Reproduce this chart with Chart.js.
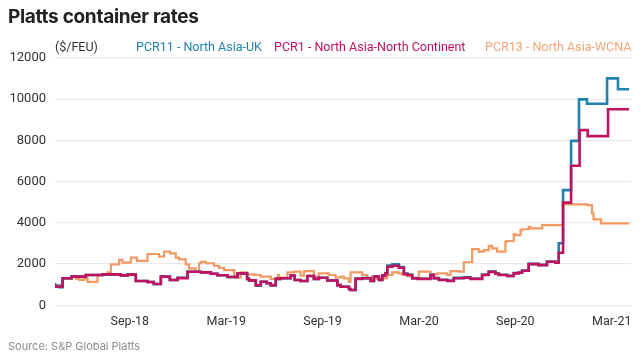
<!DOCTYPE html>
<html>
<head>
<meta charset="utf-8">
<script src="https://cdn.jsdelivr.net/npm/chart.js@4/dist/chart.umd.min.js"></script>
<style>
  html, body { margin: 0; padding: 0; background: #fff; }
  body { width: 644px; height: 361px; position: relative; overflow: hidden; font-family: Inter, "Noto Sans", sans-serif; }
  #wrap { position: absolute; left: 0; top: 0; width: 644px; height: 361px; }
  .title { position: absolute; left: 8px; top: 5px; font-size: 19px; font-weight: 700; color: #222; letter-spacing: -0.3px; }
  .lg { position: absolute; top: 39px; font-family: Roboto, sans-serif; font-size: 12.5px; white-space: nowrap; }
  .source { position: absolute; left: 8px; top: 339px; font-size: 11px; color: #8a8a8a; }
</style>
</head>
<body>
<div id="wrap"><canvas id="rates" width="644" height="361"></canvas></div>
<div class="title">Platts container rates</div>
<div class="lg" style="left:55px;color:#333">($/FEU)</div>
<div class="lg" style="left:136px;color:#1f82b0">PCR11 - North Asia-UK</div>
<div class="lg" style="left:274px;color:#c0125f">PCR1 - North Asia-North Continent</div>
<div class="lg" style="left:485px;color:#f4a676">PCR13 - North Asia-WCNA</div>
<div class="source">Source: S&amp;P Global Platts</div>
<script>
// x values are months since Jan 2018 (8 = Sep-18)
var tickMonths = [8, 14, 20, 26, 32, 38];
var tickLabels = ['Sep-18', 'Mar-19', 'Sep-19', 'Mar-20', 'Sep-20', 'Mar-21'];

var pcr1Months = [3.34,3.81,4.37,5.26,6.30,7.44,7.86,8.37,9.10,9.49,9.93,10.49,10.97,11.59,12.42,13.04,13.45,14.08,14.70,15.30,15.42,15.84,16.15,16.52,16.77,17.08,17.39,18.01,18.26,18.63,19.05,19.46,19.77,20.29,20.92,21.12,21.64,21.74,22.05,22.47,22.99,23.20,23.51,23.72,23.92,24.03,24.34,24.75,25.06,25.27,25.58,25.89,26.72,26.92,27.24,27.76,28.17,28.79,29.21,29.93,30.34,30.76,30.97,31.49,31.90,32.21,32.42,32.83,33.45,33.97,34.49,34.70,34.97,35.47,36.00,36.50,37.77,38.39,39.08];
var pcr1Values = [1070,900,1310,1390,1470,1500,1450,1490,1180,1130,1030,1390,1230,1320,1630,1600,1530,1460,1370,1550,1280,1210,980,1140,1070,980,1280,1310,1440,1230,1180,1420,1280,1340,1200,980,900,790,740,1280,1310,1180,1390,1230,1440,1550,1870,1920,1820,1520,1470,1310,1280,1470,1310,1230,1180,1310,1340,1280,1470,1620,1530,1470,1420,1550,1580,1680,2000,1950,2110,2070,2550,4980,6770,8500,8210,9510,9510];

var pcr11Months = [3.34,3.60,3.81,4.37,5.26,6.30,7.44,7.86,8.37,9.10,9.49,9.93,10.49,10.97,11.59,12.42,13.04,13.45,14.08,14.70,15.30,15.42,15.84,16.15,16.52,16.77,17.08,17.39,18.01,18.26,18.63,19.05,19.46,19.77,20.29,20.92,21.12,21.64,21.74,22.05,22.47,22.99,23.20,23.51,23.72,23.92,24.03,24.34,24.75,25.06,25.27,25.58,25.89,26.72,26.92,27.24,27.76,28.17,28.79,29.21,29.93,30.34,30.76,30.97,31.49,31.90,32.21,32.42,32.83,33.45,33.97,34.49,34.70,34.97,35.47,35.96,36.46,37.71,38.39,38.49,39.08];
var pcr11Values = [1050,950,880,1310,1390,1470,1500,1450,1490,1180,1130,1030,1390,1230,1340,1630,1600,1530,1460,1370,1550,1280,1210,950,1140,1070,960,1280,1310,1440,1230,1180,1420,1280,1340,1200,980,900,790,740,1300,1320,1180,1390,1230,1460,1570,1930,1990,1850,1540,1480,1320,1290,1480,1320,1240,1200,1330,1360,1290,1490,1640,1550,1480,1430,1570,1600,1690,2010,1960,2120,2080,3010,5590,7980,9990,9780,11010,10480,10480];

var pcr13Months = [3.34,3.81,4.37,4.64,4.85,5.16,5.37,5.99,6.61,6.82,7.33,7.54,8.06,8.44,9.10,9.82,10.13,10.51,10.86,11.07,11.48,11.69,12.10,12.31,12.42,12.73,13.24,13.55,13.86,14.49,14.59,14.90,15.28,15.73,16.15,16.77,17.22,17.29,17.81,18.22,18.63,18.84,19.46,19.77,20.39,20.81,21.12,21.33,21.64,21.74,22.47,22.78,23.09,23.40,23.72,24.03,24.34,24.75,24.96,25.27,25.58,25.99,26.72,27.14,27.76,27.96,28.48,28.79,29.31,29.72,30.03,30.34,30.55,30.86,31.38,31.45,31.90,32.00,32.32,32.42,32.83,32.94,33.67,34.97,36.46,36.77,36.87,37.33,38.70,39.08];
var pcr13Values = [1070,980,1280,1420,1280,1230,1310,1140,1470,1600,1990,2200,2070,2310,2160,2490,2360,2600,2520,2310,2230,1990,1790,1660,2040,2110,2040,1920,1820,1710,1440,1340,1600,1500,1470,1390,1280,1470,1340,1600,1630,1440,1660,1390,1550,1470,1340,1390,1310,1140,1600,1470,1310,1390,1280,1310,1470,1600,1550,1470,1420,1310,1630,1500,1550,1470,1660,1630,2090,2730,2600,2680,2880,2760,2600,3080,3120,3460,3410,3650,3690,3810,3730,3890,4900,4860,4460,4170,3980,3980];

function toPoints(xs, ys) {
  return xs.map(function (m, i) { return { x: m, y: ys[i] }; });
}

var ctx = document.getElementById('rates').getContext('2d');
var ratesChart = new Chart(ctx, {
  type: 'line',
  data: {
    datasets: [{
      label: 'PCR1 - North Asia-North Continent',
      data: toPoints(pcr1Months, pcr1Values),
      borderColor: '#c0125f',
      borderWidth: 2.6,
      stepped: 'after',
      pointRadius: 0,
      fill: false,
      order: 0
    },
    {
      label: 'PCR11 - North Asia-UK',
      data: toPoints(pcr11Months, pcr11Values),
      borderColor: '#1f82b0',
      borderWidth: 2.6,
      stepped: 'after',
      pointRadius: 0,
      fill: false,
      order: 1
    },
    {
      label: 'PCR13 - North Asia-WCNA',
      data: toPoints(pcr13Months, pcr13Values),
      borderColor: '#f39a64',
      borderWidth: 2.2,
      stepped: 'after',
      pointRadius: 0,
      fill: false,
      order: 2
    }]
  },
  options: {
    responsive: false,
    animation: false,
    layout: { padding: { left: 0, right: 13, top: 58, bottom: 0 } },
    plugins: {
      legend: { display: false },
      tooltip: { enabled: false }
    },
    scales: {
      x: {
        type: 'linear',
        min: 3.34,
        max: 39.2,
        grid: { display: false, drawTicks: false },
        border: { display: false },
        afterBuildTicks: function (axis) {
          axis.ticks = tickMonths.map(function (v) { return { value: v }; });
        },
        afterFit: function (axis) { axis.height = 55.7; },
        ticks: {
          padding: 9,
          maxRotation: 0,
          autoSkip: false,
          color: '#333',
          font: { family: 'Roboto', size: 12.5 },
          callback: function (v) {
            var i = tickMonths.indexOf(v);
            return i >= 0 ? tickLabels[i] : '';
          }
        }
      },
      y: {
        min: 0,
        max: 12000,
        grid: { color: '#e9e9e9', lineWidth: 1.2, drawTicks: false },
        border: { display: false },
        afterFit: function (axis) { axis.width = 55; },
        ticks: {
          stepSize: 2000,
          padding: 9,
          color: '#333',
          font: { family: 'Roboto', size: 13 },
          callback: function (v) { return String(v); }
        }
      }
    }
  }
});
</script>
</body>
</html>
